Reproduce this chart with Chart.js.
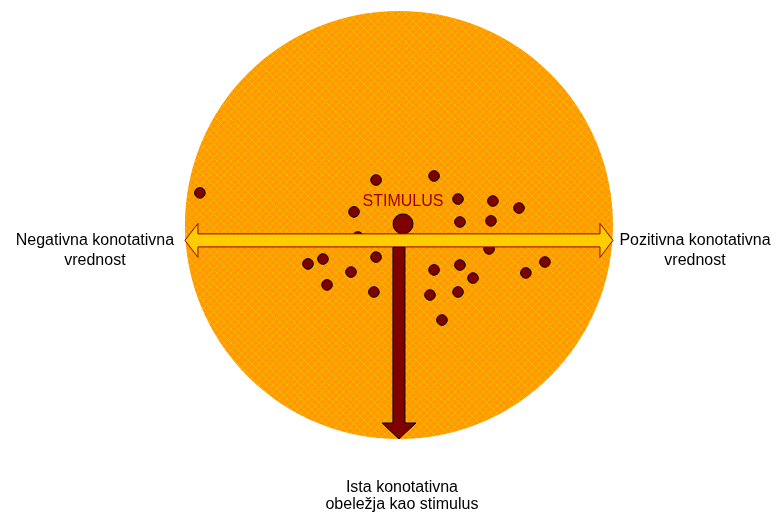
<!DOCTYPE html>
<html>
<head>
<meta charset="utf-8">
<script src="https://cdn.jsdelivr.net/npm/chart.js@4.4.0/dist/chart.umd.min.js"></script>
<style>
  html, body { margin: 0; padding: 0; background: #fff; }
  #wrap { width: 778px; height: 515px; position: relative; }
</style>
</head>
<body>
<div id="wrap"><canvas id="konotacijaChart"></canvas></div>
<script>
// units: circle radius = 100, x = connotative value (neg .. pos)
const xPoints = [-93, -10.7, 16.4, 27.6, 43.9, 56.1, -21, 28.5, 43, -19.2, 42.1,
    -42.5, -35.5, -22.4, -10.7, -33.6, -11.7, 16.4, 28.5, 34.6, 14.5, 27.6, 20.1, 59.3, 68.2];
const yPoints = [15, 21, 22.9, 12.1, 11.2, 7.9, 6.1, 1.4, 1.9, -5.6, -11.2,
    -18.2, -15.9, -22, -15, -28, -31.3, -21, -18.7, -24.8, -32.7, -31.3, -44.4, -22.4, -17.3];
const stimulus = { x: 1.9, y: 0.5 };
const circleRadius = 100;
const axisY = -7.2;          // horizontal arrow line
const labels = {
    stimulus: 'STIMULUS',
    left: ['Negativna konotativna', 'vrednost'],
    right: ['Pozitivna konotativna', 'vrednost'],
    bottom: ['Ista konotativna', 'obeležja kao stimulus']
};

function makePattern(ctx) {
    const tile = document.createElement('canvas');
    tile.width = 7; tile.height = 7;
    const t = tile.getContext('2d');
    t.fillStyle = '#ff9900';
    t.fillRect(0, 0, 7, 7);
    t.strokeStyle = '#ffb400';
    t.lineWidth = 1;
    t.beginPath();
    t.moveTo(0, 0); t.lineTo(7, 7);
    t.moveTo(7, 0); t.lineTo(0, 7);
    t.stroke();
    return ctx.createPattern(tile, 'repeat');
}

const diagram = {
    id: 'diagram',
    beforeDatasetsDraw(chart) {
        const ctx = chart.ctx, xs = chart.scales.x, ys = chart.scales.y;
        const cx = xs.getPixelForValue(0), cy = ys.getPixelForValue(0);
        const r = xs.getPixelForValue(circleRadius) - cx;
        ctx.save();
        ctx.fillStyle = makePattern(ctx);
        ctx.beginPath();
        ctx.arc(cx, cy, r, 0, Math.PI * 2);
        ctx.fill();
        ctx.restore();
    },
    afterDatasetsDraw(chart) {
        const ctx = chart.ctx, xs = chart.scales.x, ys = chart.scales.y;
        const x0 = xs.getPixelForValue(-circleRadius), x1 = xs.getPixelForValue(circleRadius);
        const ay = ys.getPixelForValue(axisY);
        const cx = xs.getPixelForValue(0);
        const bottom = ys.getPixelForValue(-circleRadius);
        ctx.save();

        // double arrow
        const hw = 6.5, hh = 17, hl = 13;
        ctx.fillStyle = '#ffcc00';
        ctx.strokeStyle = '#990000';
        ctx.lineWidth = 1;
        ctx.beginPath();
        ctx.moveTo(x0, ay);
        ctx.lineTo(x0 + hl, ay - hh);
        ctx.lineTo(x0 + hl, ay - hw);
        ctx.lineTo(x1 - hl, ay - hw);
        ctx.lineTo(x1 - hl, ay - hh);
        ctx.lineTo(x1, ay);
        ctx.lineTo(x1 - hl, ay + hh);
        ctx.lineTo(x1 - hl, ay + hw);
        ctx.lineTo(x0 + hl, ay + hw);
        ctx.lineTo(x0 + hl, ay + hh);
        ctx.closePath();
        ctx.fill();
        ctx.stroke();

        // down arrow
        const sw = 6, dh = 17, dl = 16;
        const top = ay + hw + 0.5;
        ctx.fillStyle = '#800000';
        ctx.strokeStyle = '#000';
        ctx.beginPath();
        ctx.moveTo(cx - sw, top);
        ctx.lineTo(cx + sw, top);
        ctx.lineTo(cx + sw, bottom - dl);
        ctx.lineTo(cx + dh, bottom - dl);
        ctx.lineTo(cx, bottom);
        ctx.lineTo(cx - dh, bottom - dl);
        ctx.lineTo(cx - sw, bottom - dl);
        ctx.closePath();
        ctx.fill();
        ctx.stroke();

        // texts
        ctx.textAlign = 'center';
        ctx.textBaseline = 'middle';
        ctx.font = '16px "Liberation Sans", Arial, sans-serif';
        ctx.fillStyle = '#990000';
        ctx.fillText(labels.stimulus, xs.getPixelForValue(stimulus.x), ys.getPixelForValue(stimulus.y) - 22);
        ctx.fillStyle = '#000';
        labels.left.forEach((s, i) => ctx.fillText(s, x0 - 90, ay + i * 20));
        labels.right.forEach((s, i) => ctx.fillText(s, x1 + 82, ay + i * 20));
        labels.bottom.forEach((s, i) => ctx.fillText(s, cx + 3, bottom + 49 + i * 17));
        ctx.restore();
    }
};

new Chart(document.getElementById('konotacijaChart').getContext('2d'), {
    type: 'scatter',
    data: {
        datasets: [{
            data: xPoints.map((x, i) => ({ x: x, y: yPoints[i] })),
            pointRadius: 5.3,
            pointBackgroundColor: '#800000',
            pointBorderColor: '#000',
            pointBorderWidth: 1
        }, {
            data: [stimulus],
            pointRadius: 10,
            pointBackgroundColor: '#800000',
            pointBorderColor: '#000',
            pointBorderWidth: 1
        }]
    },
    options: {
        responsive: true,
        maintainAspectRatio: false,
        animation: false,
        layout: { padding: 0, autoPadding: false },
        plugins: { legend: { display: false }, tooltip: { enabled: false } },
        scales: {
            x: { display: false, min: -186.4, max: 177.1 },
            y: { display: false, min: -135.5, max: 105.1 }
        }
    },
    plugins: [diagram]
});
</script>
</body>
</html>
